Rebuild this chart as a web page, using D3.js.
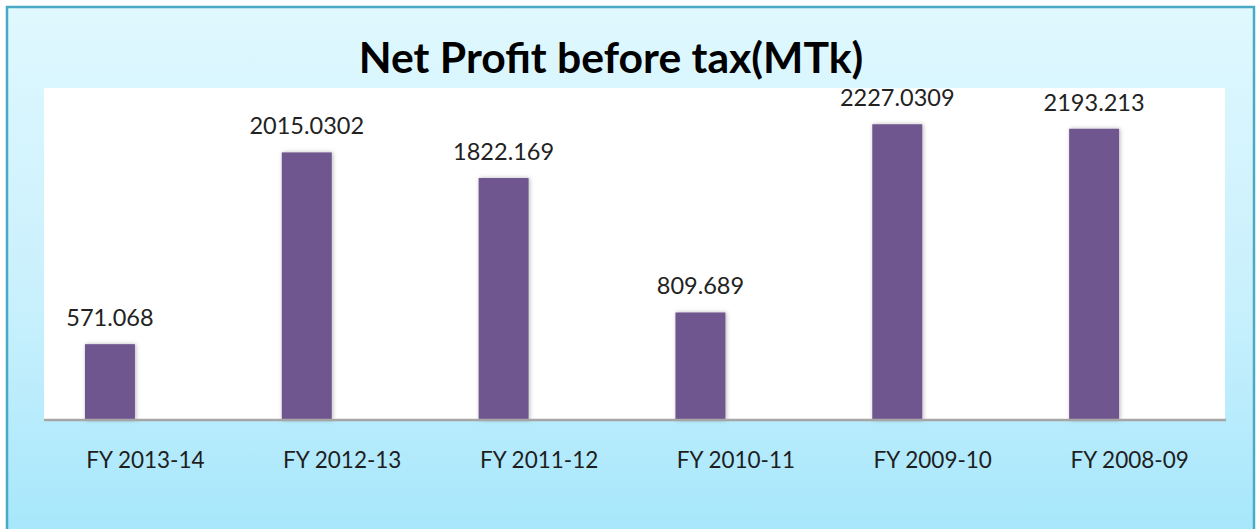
<!DOCTYPE html>
<html>
<head>
<meta charset="utf-8">
<script src="https://cdn.jsdelivr.net/npm/d3@7"></script>
<style>
html,body{margin:0;padding:0;background:#fff;}
svg{display:block;}
</style>
</head>
<body>
<script>
const categories = ["FY 2013-14","FY 2012-13","FY 2011-12","FY 2010-11","FY 2009-10","FY 2008-09"];
const values = [571.068, 2015.0302, 1822.169, 809.689, 2227.0309, 2193.213];
const valueLabels = ["571.068","2015.0302","1822.169","809.689","2227.0309","2193.213"];
const title = "Net Profit before tax(MTk)";

const W = 1256, H = 529;
const plot = {left: 44, right: 1225, top: 88, bottom: 420};
const font = "Lato, 'Open Sans', sans-serif";

const svg = d3.select("body").append("svg").attr("width", W).attr("height", H);
const defs = svg.append("defs");
const grad = defs.append("linearGradient").attr("id","bg").attr("x1",0).attr("y1",0).attr("x2",0).attr("y2",1);
grad.append("stop").attr("offset","0%").attr("stop-color","#e0f8fe");
grad.append("stop").attr("offset","55%").attr("stop-color","#c8f0fd");
grad.append("stop").attr("offset","100%").attr("stop-color","#a3e6fb");
const f = defs.append("filter").attr("id","sh").attr("x","-30%").attr("y","-10%").attr("width","160%").attr("height","120%");
f.append("feDropShadow").attr("dx",1).attr("dy",0).attr("stdDeviation",2.2).attr("flood-color","#000").attr("flood-opacity",0.28);

// outer frame
svg.append("rect").attr("x",7).attr("y",7).attr("width",1247).attr("height",H+20)
  .attr("fill","url(#bg)").attr("stroke","#4aa9c4").attr("stroke-width",2.5);

// plot area
svg.append("rect").attr("x",plot.left).attr("y",plot.top)
  .attr("width",plot.right-plot.left).attr("height",plot.bottom-plot.top).attr("fill","#ffffff");

const x = d3.scaleBand().domain(categories).range([plot.left, plot.right]);
const y = d3.scaleLinear().domain([0, 2500]).range([plot.bottom, plot.top]);
const bw = x.bandwidth();
const barOff = bw*0.208, barW = bw*0.254;

svg.append("g").selectAll("rect").data(values).join("rect")
  .attr("x",(d,i)=>x(categories[i])+barOff)
  .attr("y",d=>y(d))
  .attr("width",barW)
  .attr("height",d=>y(0)-y(d))
  .attr("fill","#6f568f")
  .attr("filter","url(#sh)");

// axis
const axis = svg.append("g").attr("transform",`translate(0,${plot.bottom})`)
  .call(d3.axisBottom(x).tickSize(0).tickPadding(32));
axis.select(".domain").attr("stroke","#a6a6a6").attr("stroke-width",2.5)
  .attr("d",`M${plot.left},0H${plot.right+1}`);
axis.selectAll("text").attr("font-family",font).attr("font-size",22.5).attr("fill","#1e1e1e")
  .attr("dy","0.71em").attr("dx",3);

// value labels
svg.append("g").selectAll("text").data(values).join("text")
  .attr("x",(d,i)=>x(categories[i])+barOff+barW/2)
  .attr("y",d=>y(d)-18)
  .attr("text-anchor","middle")
  .attr("font-family",font).attr("font-size",23.5).attr("fill","#222")
  .text((d,i)=>valueLabels[i]);

// title
svg.append("text").attr("x",611).attr("y",73).attr("text-anchor","middle")
  .attr("font-family",font).attr("font-weight","bold").attr("font-size",42.7).attr("fill","#000")
  .text(title);
</script>
</body>
</html>
